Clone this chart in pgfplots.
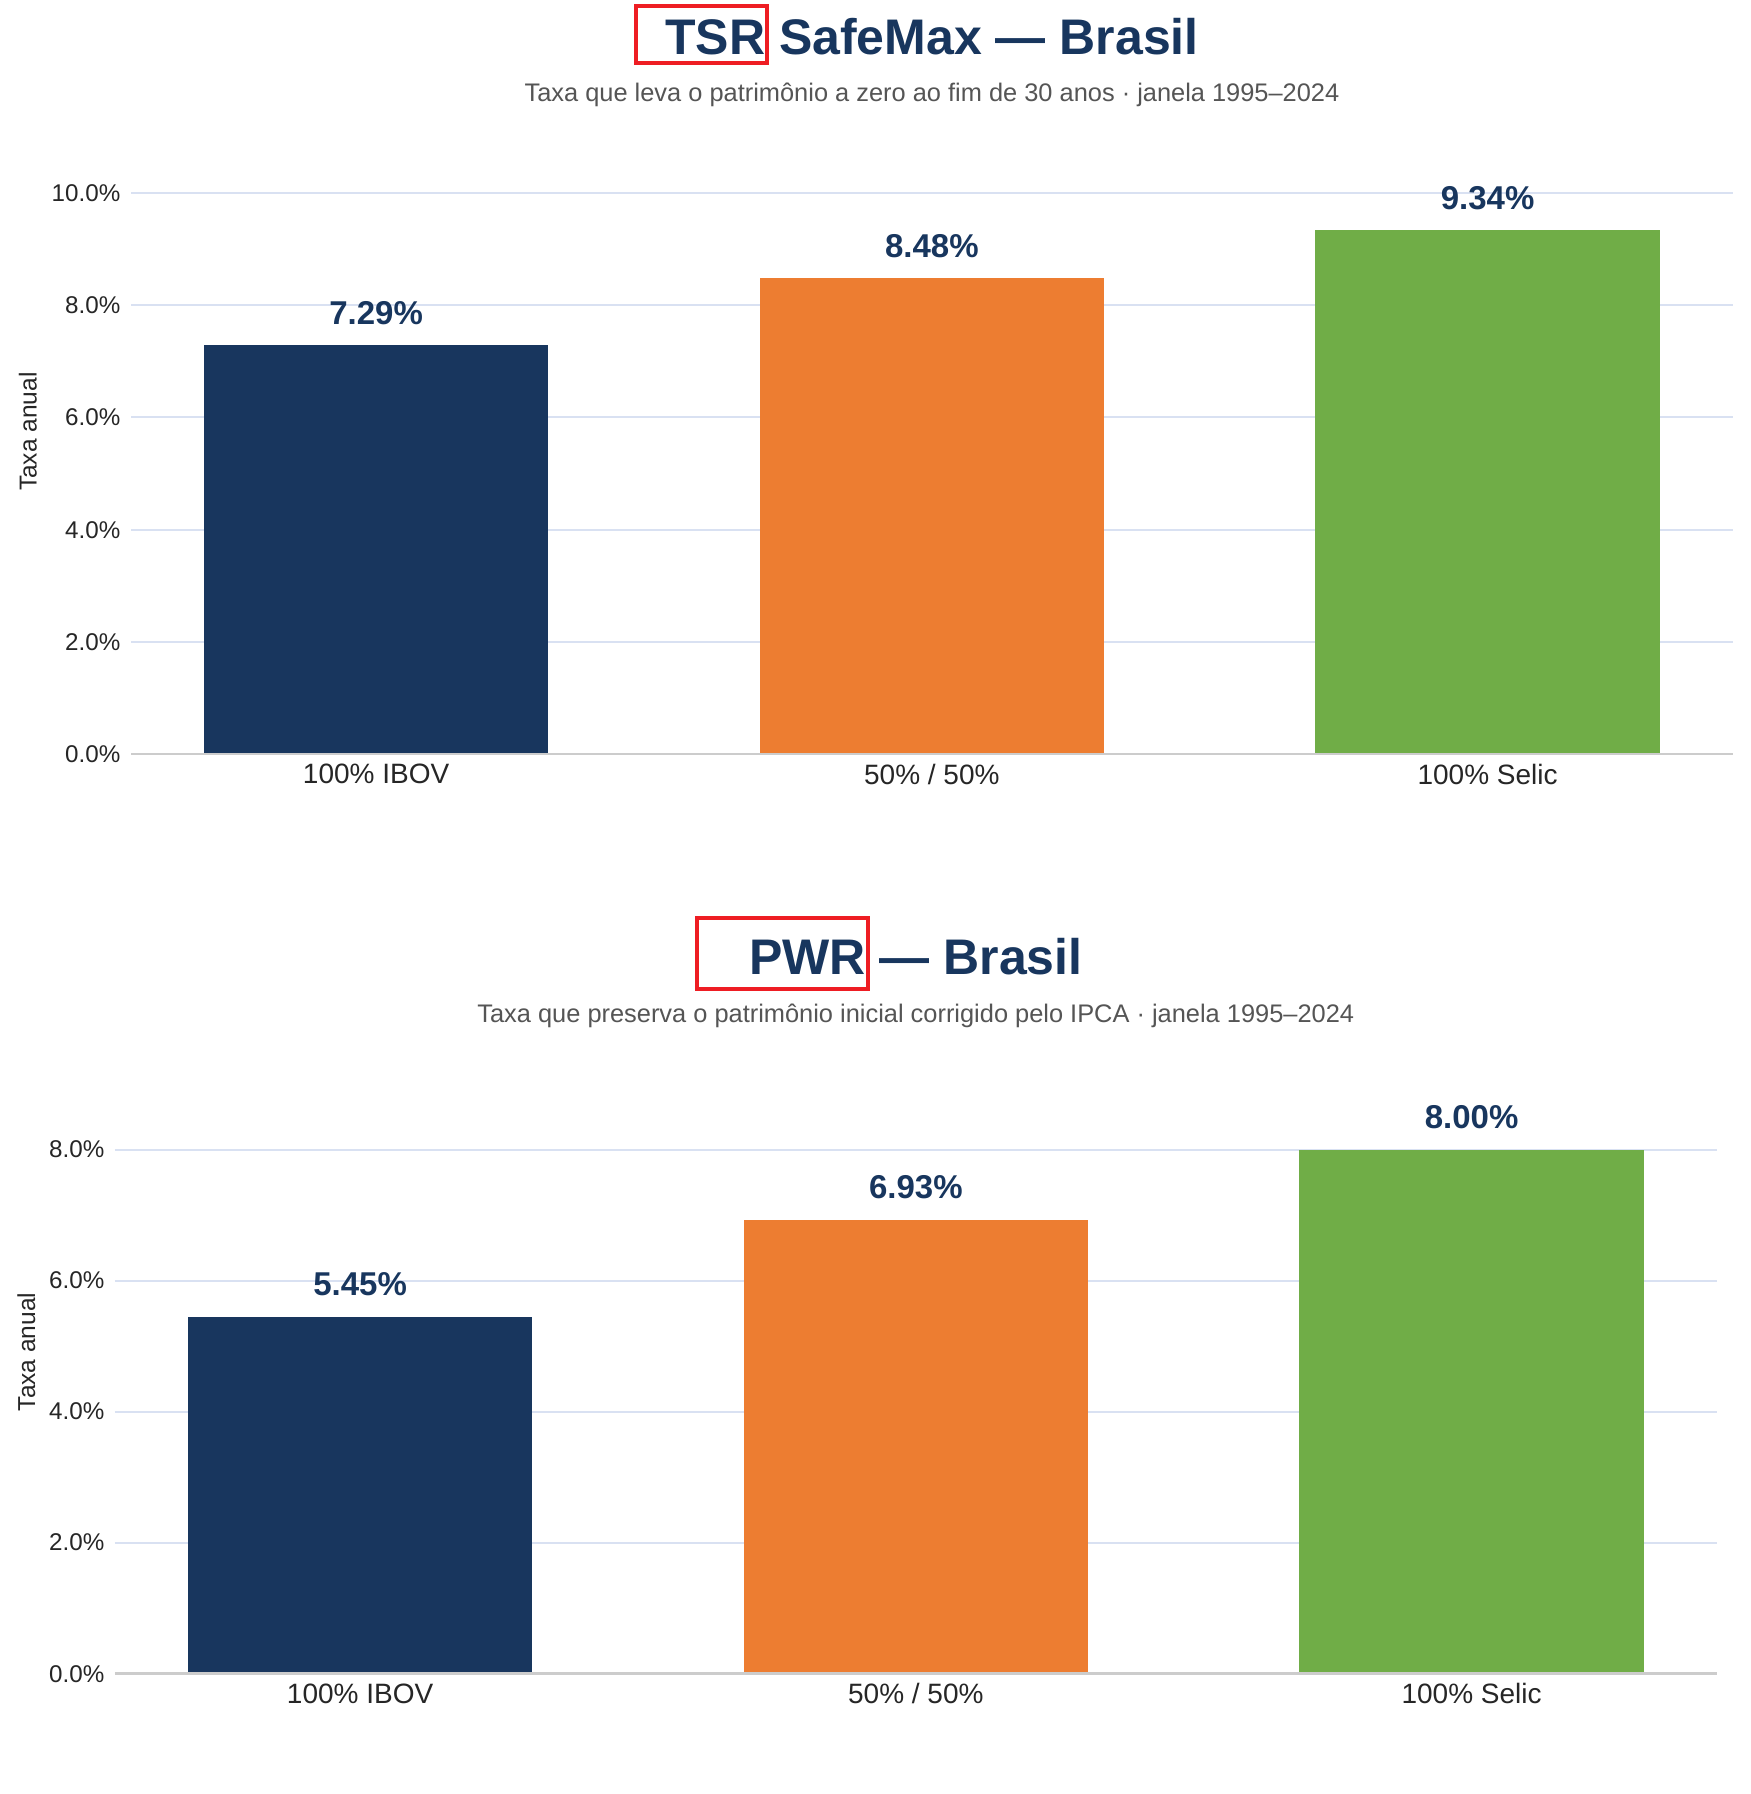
\documentclass[border=0pt]{standalone}
\usepackage{fontspec}
\setmainfont{Liberation Sans}
\usepackage{pgfplots}
\pgfplotsset{compat=1.18}
\definecolor{navy}{HTML}{18365E}
\definecolor{orng}{HTML}{ED7D31}
\definecolor{grn}{HTML}{70AD47}
\definecolor{gridc}{HTML}{D9E1F2}
\definecolor{spinec}{HTML}{CCCCCC}
\definecolor{subc}{HTML}{555555}
\definecolor{tickc}{HTML}{262626}
\definecolor{boxred}{HTML}{EE1D23}
\pgfplotsset{
  /pgf/number format/assume math mode=true,
  panel/.style={
    scale only axis, width=800.85pt, height=301.4pt,
    xmin=-0.441, xmax=2.441, ymin=0,
    axis line style={draw=none},
    major tick length=0pt,
    xtick={0,1,2}, xticklabels={100\% IBOV, 50\% / 50\%, 100\% Selic},
    xticklabel style={font=\fontsize{14}{16}\selectfont, text=tickc, inner sep=0pt, anchor=north, yshift=-4.75pt},
    yticklabel style={font=\fontsize{12.1}{14}\selectfont, text=tickc, inner sep=0pt, anchor=east, xshift=-5.15pt},
    yticklabel={\pgfmathprintnumber[fixed,fixed zerofill,precision=1]{\tick}\%},
    ymajorgrids, grid style={gridc, line width=1pt},
    ybar, bar width=0.62, bar shift=0pt,
    nodes near coords={\pgfmathprintnumber[fixed,fixed zerofill,precision=2]{\pgfplotspointmeta}\%},
    nodes near coords style={font=\bfseries\fontsize{16.5}{18}\selectfont, text=navy, anchor=base, yshift=10.5pt, inner sep=0pt},
    clip=false,
  }
}
\begin{document}
\begin{tikzpicture}
\fill[white] (0,0) rectangle (875.5pt,897pt);
\useasboundingbox (0,0) rectangle (875.5pt,897pt);
% ---------- top panel ----------
\begin{axis}[panel, at={(65.5pt,519.9pt)}, anchor=south west, ymax=10.741, ytick={0,2,4,6,8,10}]
\addplot[fill=navy, draw=none] coordinates {(0,7.29)};
\addplot[fill=orng, draw=none] coordinates {(1,8.48)};
\addplot[fill=grn, draw=none] coordinates {(2,9.34)};
\draw[spinec, line width=1.2pt] (axis cs:-0.441,0) -- (axis cs:2.441,0);
\end{axis}
\node[font=\bfseries\fontsize{25}{30}\selectfont, text=navy, anchor=base] at (466pt,869.85pt) {TSR SafeMax — Brasil};
\node[font=\fontsize{12.7}{15}\selectfont, text=subc, anchor=base] at (466pt,846.15pt) {Taxa que leva o patrimônio a zero ao fim de 30 anos · janela 1995–2024};
\draw[boxred, line width=2pt] (318pt,865.25pt) rectangle (383.6pt,894.15pt);
\node[rotate=90, anchor=base, font=\fontsize{12.25}{14}\selectfont, text=tickc] at (18.35pt,681.15pt) {Taxa anual};
% ---------- bottom panel ----------
\begin{axis}[panel, at={(57.5pt,60.15pt)}, anchor=south west, ymax=9.2, ytick={0,2,4,6,8}]
\addplot[fill=navy, draw=none] coordinates {(0,5.45)};
\addplot[fill=orng, draw=none] coordinates {(1,6.93)};
\addplot[fill=grn, draw=none] coordinates {(2,8.00)};
\draw[spinec, line width=1.2pt] (axis cs:-0.441,0) -- (axis cs:2.441,0);
\end{axis}
\node[font=\bfseries\fontsize{25}{30}\selectfont, text=navy, anchor=base] at (457.9pt,409.85pt) {PWR — Brasil};
\node[font=\fontsize{12.7}{15}\selectfont, text=subc, anchor=base] at (457.9pt,385.65pt) {Taxa que preserva o patrimônio inicial corrigido pelo IPCA · janela 1995–2024};
\draw[boxred, line width=2pt] (348.25pt,402.25pt) rectangle (433.8pt,437.9pt);
\node[rotate=90, anchor=base, font=\fontsize{12.25}{14}\selectfont, text=tickc] at (17.5pt,221pt) {Taxa anual};
\end{tikzpicture}
\end{document}
